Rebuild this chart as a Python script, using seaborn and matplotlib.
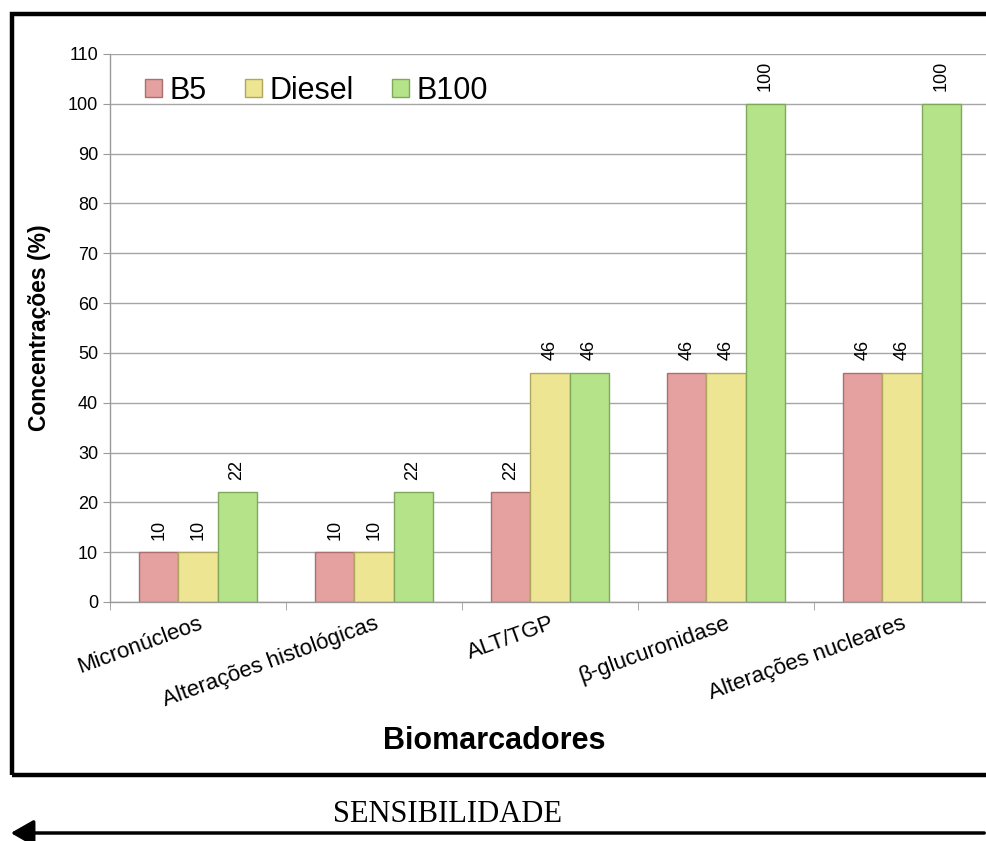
import matplotlib
matplotlib.use("Agg")
import matplotlib.pyplot as plt
import seaborn as sns
import pandas as pd
from matplotlib.patches import Rectangle, FancyArrowPatch

categories = ["Micronúcleos", "Alterações histológicas", "ALT/TGP", "β-glucuronidase", "Alterações nucleares"]
series = ["B5", "Diesel", "B100"]
b5 = [10, 10, 22, 46, 46]
diesel = [10, 10, 46, 46, 46]
b100 = [22, 22, 46, 100, 100]
yticks = list(range(0, 111, 10))

colors = {"B5": "#E5A0A0", "Diesel": "#EDE591", "B100": "#B5E38A"}
edges = {"B5": "#A87070", "Diesel": "#B0A660", "B100": "#7FA85A"}

rows = []
for s, vals in zip(series, [b5, diesel, b100]):
    for c, v in zip(categories, vals):
        rows.append({"Biomarcador": c, "valor": v, "Serie": s})
df = pd.DataFrame(rows)

sns.set_style("white")
plt.rcParams["font.family"] = ["Liberation Sans", "DejaVu Sans"]
plt.rcParams["text.color"] = "black"
plt.rcParams["axes.labelcolor"] = "black"
plt.rcParams["xtick.labelcolor"] = "black"
plt.rcParams["ytick.labelcolor"] = "black"

fig = plt.figure(figsize=(9.87, 8.41), dpi=100)
ax = fig.add_axes([110/987, 1-602/841, 880/987, 548/841])

sns.barplot(data=df, x="Biomarcador", y="valor", hue="Serie", order=categories,
            hue_order=series, palette=colors, width=0.665, saturation=1,
            ax=ax, errorbar=None, legend=True)

for cont, s in zip(ax.containers, series):
    for p in cont.patches:
        p.set_edgecolor(edges[s])
        p.set_linewidth(1.0)
    ax.bar_label(cont, labels=[f"{v:g}" for v in cont.datavalues], rotation=90,
                 padding=9, fontsize=13, color="black")

ax.set_xlim(-0.5, 4.5)
ax.set_ylim(0, 110)
ax.set_yticks(yticks)
ax.tick_params(axis="y", labelsize=13, length=5, color="#9A9A9A", direction="out", left=True)
ax.yaxis.grid(True, color="#A6A6A6", linewidth=1)
ax.set_axisbelow(True)

ax.set_xticks(range(len(categories)))
ax.set_xticklabels(categories, rotation=20, ha="right", rotation_mode="anchor", fontsize=16)
ax.tick_params(axis="x", which="major", length=0, pad=8)
ax.set_xticks([i - 0.5 for i in range(len(categories) + 1)], minor=True)
ax.tick_params(axis="x", which="minor", length=6, color="#9A9A9A", direction="out", bottom=True)

for sp in ["top", "right"]:
    ax.spines[sp].set_visible(False)
for sp in ["left", "bottom"]:
    ax.spines[sp].set_color("#9A9A9A")
    ax.spines[sp].set_linewidth(1)

ax.set_ylabel("Concentrações (%)", fontsize=16.5, fontweight="bold", labelpad=12)
ax.set_xlabel("Biomarcadores", fontsize=22, fontweight="bold", va="center")
ax.xaxis.set_label_coords((494-110)/880, (602-741)/548)

leg = ax.legend(loc="upper left", ncol=3, frameon=False, fontsize=22,
                handlelength=0.55, handleheight=0.55, handletextpad=0.25,
                columnspacing=1.25, bbox_to_anchor=(0.026, 0.982), borderaxespad=0)
for h, s in zip(leg.legend_handles, series):
    h.set_edgecolor(edges[s])

frame = Rectangle((12/987, 1-775/841), 1.2, (775-14)/841, transform=fig.transFigure,
                  fill=False, edgecolor="black", linewidth=3.2, clip_on=False)
fig.patches.append(frame)

arrow = FancyArrowPatch((1.0, 1-833/841), (8/987, 1-833/841), transform=fig.transFigure,
                        arrowstyle="-|>,head_length=14,head_width=8", mutation_scale=1,
                        color="black", linewidth=2.5)
fig.patches.append(arrow)
fig.text(448/987, 1-815/841, "SENSIBILIDADE", ha="center", va="center", fontsize=22,
         family=["Liberation Serif", "DejaVu Serif"])

fig.savefig("out.png", dpi=100)
